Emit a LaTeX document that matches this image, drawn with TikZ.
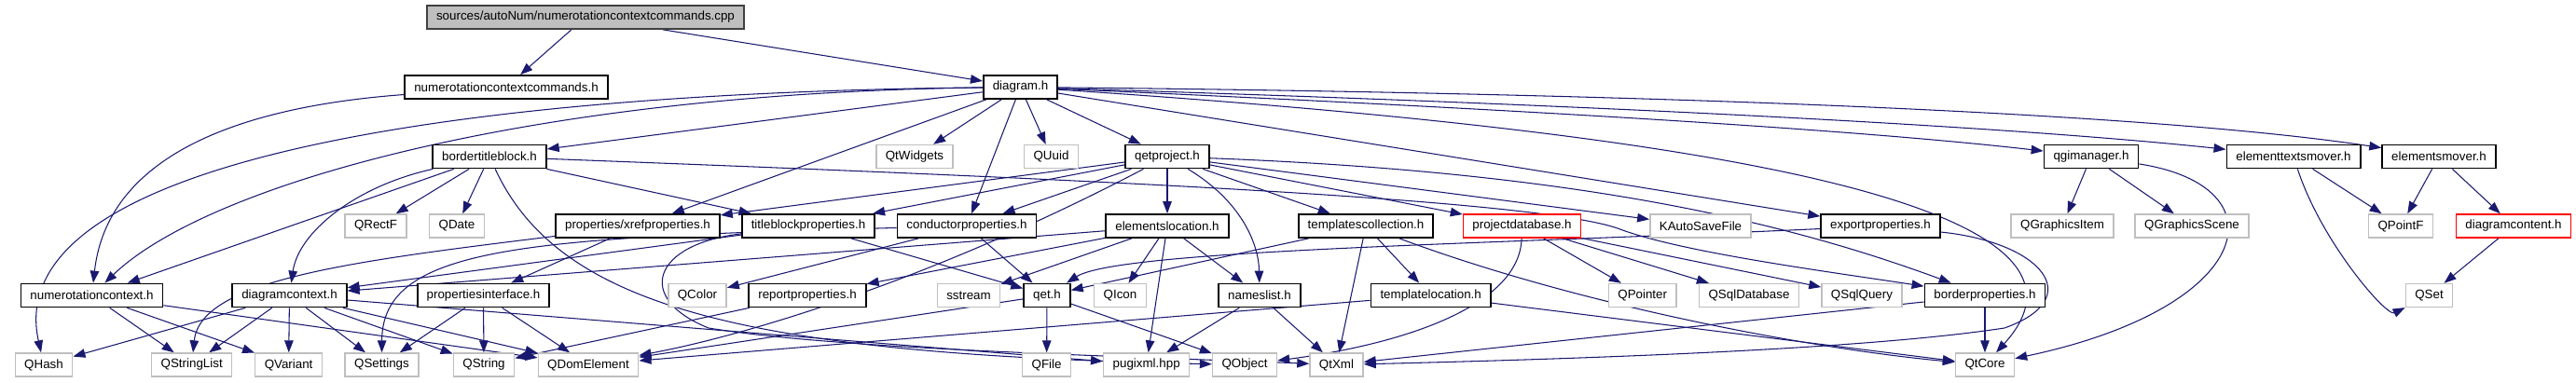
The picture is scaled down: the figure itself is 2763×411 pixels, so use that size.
\documentclass[tikz,border=0pt]{standalone}
\usepackage{fontspec}
\setmainfont{Liberation Sans}
\usetikzlibrary{arrows.meta,positioning,backgrounds}
\definecolor{edgeblue}{RGB}{25,25,112}
\definecolor{grey75}{RGB}{191,191,191}
\definecolor{alert}{RGB}{255,0,0}

\begin{document}
\begin{tikzpicture}[
          x=0.02cm,y=-0.02cm,
          hdr/.style={draw=black,line width=1pt,fill=white,minimum height=0.5cm,
                      inner xsep=0.2cm,inner ysep=0pt,font=\fontsize{7.6}{9}\selectfont},
          sys/.style={hdr,draw=grey75,line width=0.8pt},
          bad/.style={hdr,draw=alert,line width=0.8pt},
          src/.style={hdr,fill=grey75,draw=black!75},
          ar/.style={-{Triangle[length=0.26cm,width=0.19cm]},draw=edgeblue,line width=0.6pt}
        ]
        \useasboundingbox (0,0) rectangle (2763,411);
        \node[src] (root) at (628,18.5) {sources/autoNum/numerotationcontextcommands.cpp};
        \node[hdr] (nccmd) at (543,93.5) {numerotationcontextcommands.h};
        \node[hdr] (diagram) at (1094.5,93.5) {diagram.h};
        \node[hdr] (btb) at (525,168) {bordertitleblock.h};
        \node[sys] (qtwidgets) at (981,168) {QtWidgets};
        \node[sys] (quuid) at (1127.5,168) {QUuid};
        \node[hdr] (qetproj) at (1252,168) {qetproject.h};
        \node[hdr] (qgim) at (2243,168) {qgimanager.h};
        \node[hdr] (etmover) at (2460,168) {elementtextsmover.h};
        \node[hdr] (emover) at (2616,168) {elementsmover.h};
        \node[sys] (qrectf) at (403,242.5) {QRectF};
        \node[sys] (qdate) at (490,242.5) {QDate};
        \node[hdr] (xref) at (684,242.5) {properties/xrefproperties.h};
        \node[hdr] (tbprop) at (867,242.5) {titleblockproperties.h};
        \node[hdr] (cprop) at (1037,242.5) {conductorproperties.h};
        \node[hdr] (eloc) at (1252,242.5) {elementslocation.h};
        \node[hdr] (tcoll) at (1465,242.5) {templatescollection.h};
        \node[bad] (pdb) at (1632.5,242.5) {projectdatabase.h};
        \node[sys] (kauto) at (1824,242.5) {KAutoSaveFile};
        \node[hdr] (expprop) at (2017,242.5) {exportproperties.h};
        \node[sys] (qgitem) at (2212,242.5) {QGraphicsItem};
        \node[sys] (qgscene) at (2351,242.5) {QGraphicsScene};
        \node[sys] (qpointf) at (2575,242.5) {QPointF};
        \node[bad] (dcontent) at (2696,242.5) {diagramcontent.h};
        \node[hdr] (numctx) at (98.5,317) {numerotationcontext.h};
        \node[hdr] (dctx) at (310.5,317) {diagramcontext.h};
        \node[hdr] (propif) at (518.5,317) {propertiesinterface.h};
        \node[sys] (qcolor) at (748,317) {QColor};
        \node[hdr] (repprop) at (866,317) {reportproperties.h};
        \node[sys] (sstream) at (1039,317) {sstream};
        \node[hdr] (qeth) at (1123,317) {qet.h};
        \node[sys] (qicon) at (1201.5,317) {QIcon};
        \node[hdr] (nlist) at (1351,317) {nameslist.h};
        \node[hdr] (tloc) at (1534.7,317) {templatelocation.h};
        \node[sys] (qpointer) at (1761.7,317) {QPointer};
        \node[sys] (qsqldb) at (1876,317) {QSqlDatabase};
        \node[sys] (qsqlq) at (1997,317) {QSqlQuery};
        \node[hdr] (bprop) at (2129,317) {borderproperties.h};
        \node[sys] (qset) at (2605.5,317) {QSet};
        \node[sys] (qhash) at (47,391.5) {QHash};
        \node[sys] (qstrlist) at (205.7,391.5) {QStringList};
        \node[sys] (qvariant) at (309.6,391.5) {QVariant};
        \node[sys] (qsettings) at (409.5,391.5) {QSettings};
        \node[sys] (qstring) at (519,391.5) {QString};
        \node[sys] (qdom) at (631,391.5) {QDomElement};
        \node[sys] (qfile) at (1122.6,391.5) {QFile};
        \node[sys] (pugi) at (1229.7,391.5) {pugixml.hpp};
        \node[sys] (qobject) at (1335,391.5) {QObject};
        \node[sys] (qtxml) at (1433.5,391.5) {QtXml};
        \node[sys] (qtcore) at (2129,391.5) {QtCore};
        \begin{scope}[on background layer]
        \foreach \a/\b in {root/nccmd,root/diagram,diagram/btb,diagram/xref,diagram/qtwidgets,
            diagram/quuid,diagram/cprop,diagram/qetproj,diagram/expprop,btb/numctx,btb/qrectf,
            btb/qdate,btb/tbprop,qetproj/xref,qetproj/tbprop,qetproj/cprop,qetproj/eloc,
            qetproj/tcoll,qetproj/pdb,qetproj/kauto,qgim/qgitem,qgim/qgscene,etmover/qpointf,
            emover/qpointf,emover/dcontent,dcontent/qset,xref/propif,tbprop/dctx,tbprop/qeth,
            cprop/qcolor,cprop/qeth,eloc/dctx,eloc/repprop,eloc/sstream,eloc/qicon,eloc/pugi,
            eloc/nlist,tcoll/qeth,tcoll/tloc,tcoll/qtxml,pdb/qpointer,pdb/qsqldb,pdb/qsqlq,
            numctx/qstrlist,numctx/qvariant,numctx/qdom,dctx/qhash,dctx/qstrlist,dctx/qvariant,
            dctx/qsettings,dctx/qstring,dctx/qdom,dctx/pugi,propif/qsettings,propif/qstring,
            propif/qdom,repprop/qstring,qeth/qdom,qeth/qfile,qeth/qobject,nlist/pugi,nlist/qtxml,
            tloc/qdom,tloc/qtcore,bprop/qtcore,bprop/qtxml}
          \draw[ar] (\a) -- (\b);
        \draw[ar] (nccmd) .. controls (250,115) and (115,170) .. (numctx);
        \draw[ar] (diagram) .. controls (560,100) and (220,200) .. (numctx);
        \draw[ar] (diagram) .. controls (450,100) and (0,180) .. (qhash);
        \draw[ar] (diagram) .. controls (1650,118) and (2000,140) .. (qgim);
        \draw[ar] (diagram) .. controls (1700,112) and (2150,135) .. (etmover);
        \draw[ar] (diagram) .. controls (1750,100) and (2300,120) .. (emover);
        \draw[ar] (diagram) .. controls (1800,140) and (2290,215) .. (qtcore);
        \draw[ar] (btb) .. controls (380,200) and (320,250) .. (dctx);
        \draw[ar] (btb) .. controls (600,330) and (800,380) .. (qobject);
        \draw[ar] (btb) .. controls (1100,190) and (1640,212) .. (1735,245)
                        .. controls (1800,270) and (1950,290) .. (bprop);
        \draw[ar] (qetproj) .. controls (1700,185) and (1920,240) .. (bprop);
        \draw[ar] (qetproj) .. controls (1000,300) and (800,360) .. (qdom);
        \draw[ar] (qetproj) .. controls (1330,215) and (1350,260) .. (nlist);
        \draw[ar] (xref) .. controls (380,280) and (215,300) .. (qstrlist);
        \draw[ar] (cprop) .. controls (560,255) and (410,265) .. (qsettings);
        \draw[ar] (tbprop) .. controls (700,262) and (680,320) .. (760,352)
                           .. controls (900,375) and (1200,382) .. (qtxml);
        \draw[ar] (expprop) .. controls (1600,262) and (1200,268) .. (qeth);
        \draw[ar] (expprop) .. controls (2190,260) and (2240,320) .. (2150,352)
                            .. controls (2000,375) and (1700,385) .. (qtxml);
        \draw[ar] (tcoll) .. controls (1700,330) and (1950,375) .. (qtcore);
        \draw[ar] (pdb) .. controls (1630,330) and (1500,370) .. (qobject);
        \draw[ar] (qgim) .. controls (2450,200) and (2420,330) .. (qtcore);
        \draw[ar] (etmover) .. controls (2490,260) and (2560,340) .. (qset);
        \end{scope}
      \end{tikzpicture}
\end{document}
